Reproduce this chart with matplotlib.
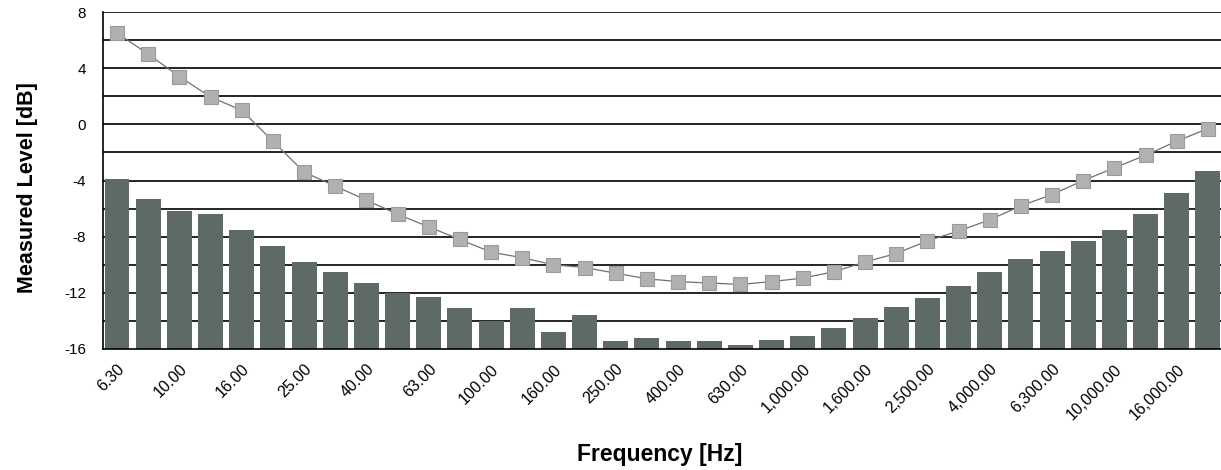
import matplotlib
matplotlib.use("Agg")
import matplotlib.pyplot as plt
import numpy as np

plt.rcParams["font.family"] = ["Liberation Sans", "DejaVu Sans"]

# 1/3-octave band centre frequencies (Hz)
BANDS = [6.3, 8, 10, 12.5, 16, 20, 25, 31.5, 40, 50, 63, 80, 100, 125, 160,
         200, 250, 315, 400, 500, 630, 800, 1000, 1250, 1600, 2000, 2500,
         3150, 4000, 5000, 6300, 8000, 10000, 12500, 16000, 20000]

# measured level per band (bars)
MEASURED = [-3.9, -5.3, -6.2, -6.4, -7.5, -8.7, -9.8, -10.5, -11.3, -12.0,
            -12.3, -13.1, -14.0, -13.1, -14.8, -13.6, -15.45, -15.2, -15.45,
            -15.45, -15.75, -15.35, -15.1, -14.5, -13.8, -13.0, -12.4, -11.5,
            -10.5, -9.6, -9.0, -8.3, -7.5, -6.4, -4.9, -3.3]

# reference curve (squares)
REFERENCE = [6.5, 5.0, 3.4, 1.95, 1.0, -1.2, -3.4, -4.4, -5.4, -6.4, -7.3,
             -8.2, -9.1, -9.5, -10.0, -10.2, -10.6, -11.0, -11.2, -11.3,
             -11.4, -11.2, -10.95, -10.5, -9.8, -9.2, -8.3, -7.6, -6.8, -5.8,
             -5.0, -4.0, -3.1, -2.2, -1.2, -0.3]

BAR_COLOR = "#5e6b64"
BASE = -16

fig = plt.figure(figsize=(12.21, 4.70), dpi=100)
ax = fig.add_axes([103 / 1221, 1 - 349 / 470, 1 - 103 / 1221, (349 - 12) / 470])

x = np.arange(len(BANDS))
heights = np.array(MEASURED) - BASE
ax.bar(x, heights, bottom=BASE, width=0.8, color=BAR_COLOR,
       edgecolor="none", zorder=3)
ax.plot(x, REFERENCE, color="#707070", lw=0.9, zorder=4,
        marker="s", markersize=10, markerfacecolor="#b0b2b2",
        markeredgecolor="#999b9b", markeredgewidth=0.8)

ax.set_xlim(-0.45, 35.42)
ax.set_ylim(-16, 8)

# horizontal grid every 2 dB
for yv in np.arange(-14, 9, 2):
    ax.axhline(yv, color="black", lw=1.2, zorder=1)

ax.set_yticks(np.arange(-16, 9, 4))
ax.set_yticklabels([f"{v:d}" for v in np.arange(-16, 9, 4)], fontsize=11)
ax.tick_params(axis="y", length=0, pad=12)


def fmt(f):
    return f"{f:,.2f}"


ax.set_xticks(x[::2])
ax.set_xticklabels([fmt(f) for f in BANDS[::2]], rotation=45, ha="right",
                   va="top", rotation_mode="anchor", fontsize=11.5)
ax.tick_params(axis="x", length=0, pad=9)

for side in ("top", "right"):
    ax.spines[side].set_visible(False)
for side in ("left", "bottom"):
    ax.spines[side].set_color("black")
    ax.spines[side].set_linewidth(1.2)
    ax.spines[side].set_zorder(5)

fig.text(28 / 1221, 1 - 188 / 470, "Measured Level [dB]", rotation=90,
         ha="center", va="center", fontsize=15.5, fontweight="bold")
fig.text(660 / 1221, 1 - 455 / 470, "Frequency [Hz]", ha="center",
         va="center", fontsize=16.5, fontweight="bold")

fig.savefig("out.png", dpi=100, facecolor="white")
